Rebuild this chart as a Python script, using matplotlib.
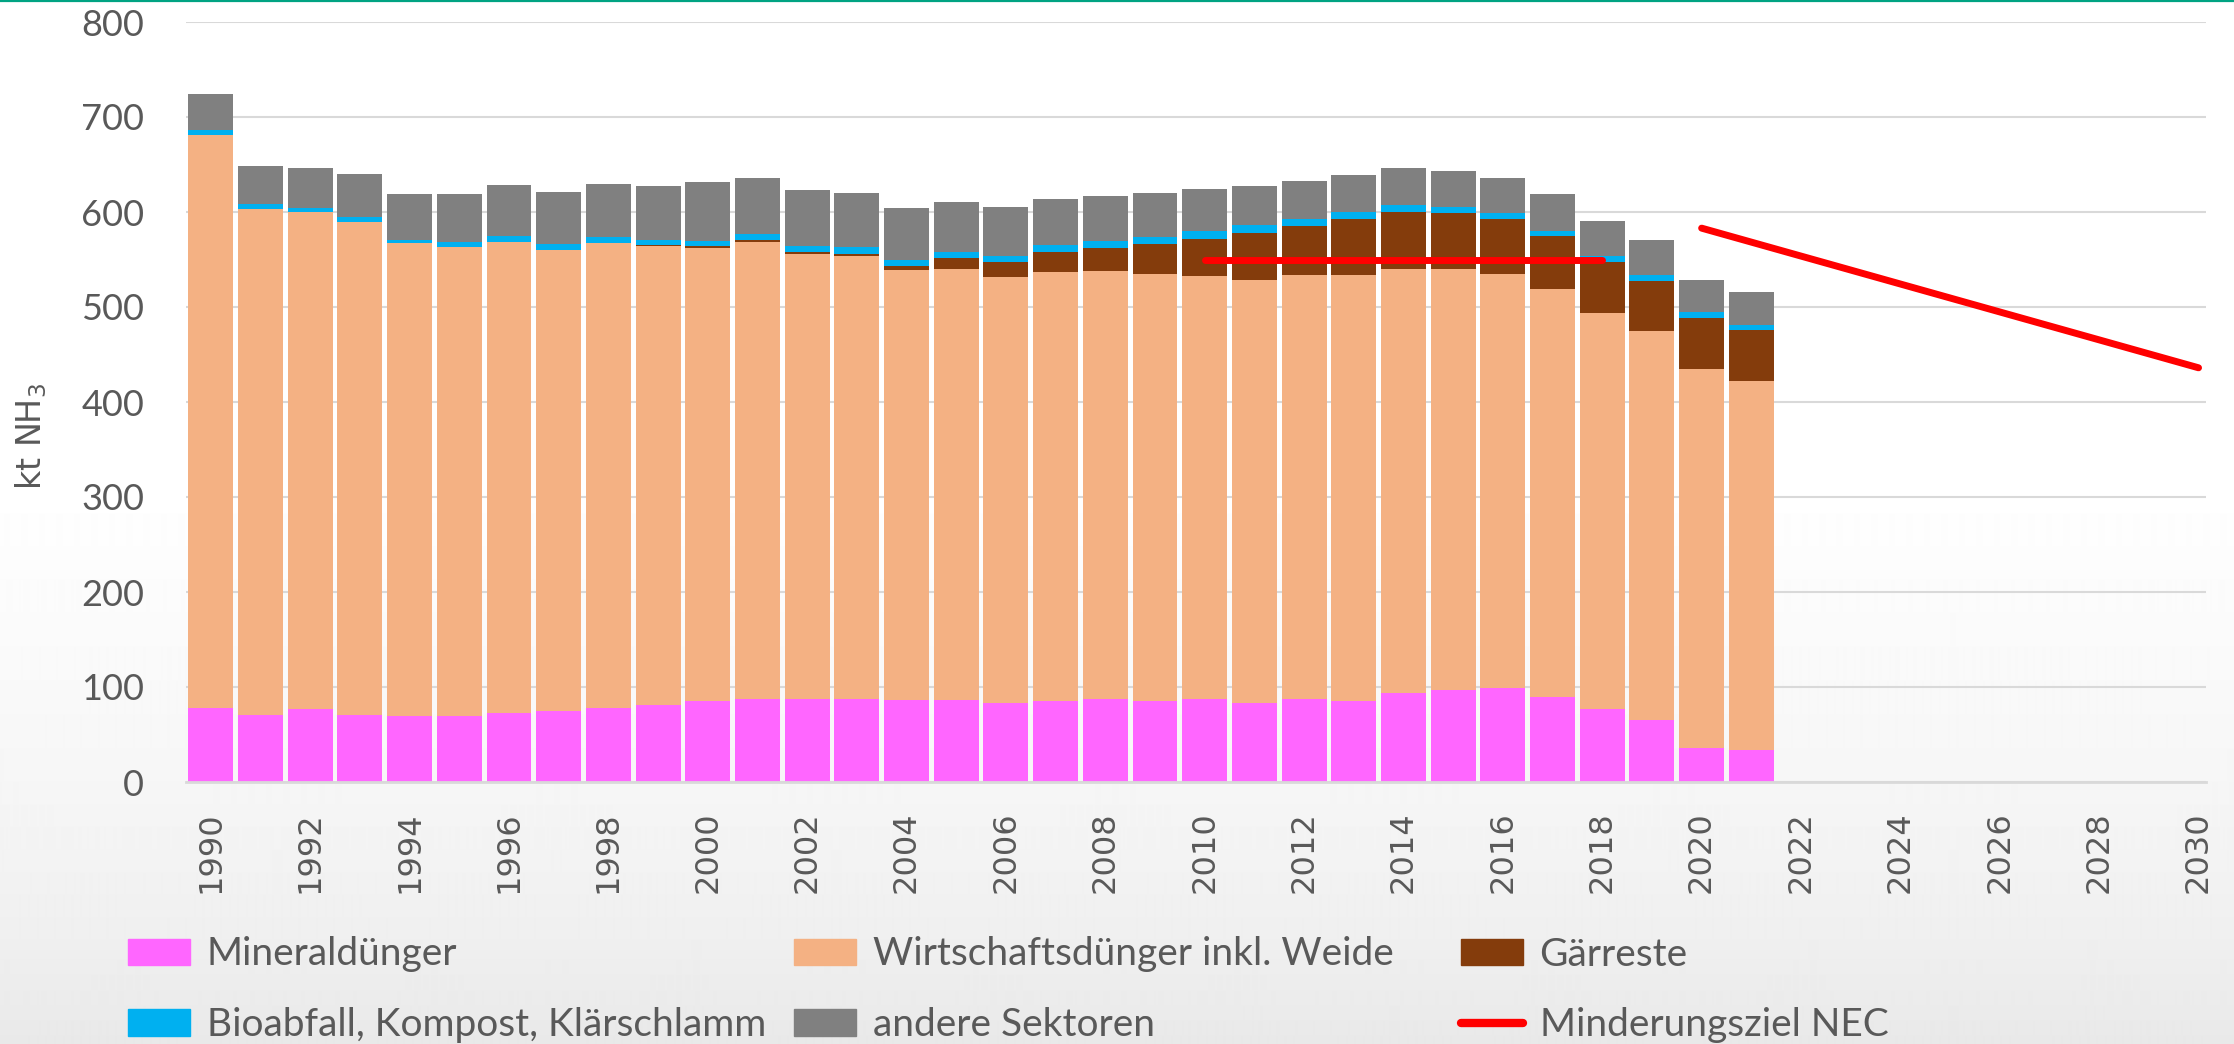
import numpy as np
import matplotlib.pyplot as plt
from matplotlib.patches import Patch
from matplotlib.lines import Line2D

# categories (x axis runs to 2030, data up to 2021)
years = list(range(1990, 2031))
data_years = list(range(1990, 2022))

# kt NH3
mineral = [78, 71, 76.5, 71, 69, 69, 73, 74.5, 78, 81.5,
           85, 87, 87, 87, 86, 86, 83.5, 85.5, 87.5, 85.5,
           87.5, 83.5, 87.5, 85.5, 93.5, 97, 99, 89, 76.5, 65.5,
           36, 34]
wirtschaft = [603.5, 532.5, 523.5, 519, 498, 494, 495, 485.5, 489.5, 482.5,
              477.5, 481.5, 468.5, 466.5, 452.5, 454.5, 448.5, 451.5, 450, 449,
              445, 445, 446, 448, 447, 442.5, 435.5, 429.5, 417.5, 409.5,
              399, 388.5]
gaerreste = [0, 0, 0, 0, 0, 0, 0, 0, 0, 1,
             1.5, 2, 2.5, 2.5, 4.5, 11.5, 15.5, 21, 25, 32,
             39.5, 49.5, 51.5, 59, 59.5, 59.5, 58, 56, 53.5, 52,
             53.5, 53.5]
bioabfall = [4.5, 4.5, 4, 4.5, 4, 5, 6.5, 6, 6, 6,
             6, 6, 6.5, 7, 6, 6, 6.5, 7, 6.5, 7,
             7.5, 8, 8, 7, 7.5, 6.5, 6.5, 6, 6.5, 6.5,
             6, 5.5]
andere = [38, 40, 42, 45.5, 48, 51, 54, 55, 55.5, 56.5,
          62, 59.5, 59, 57.5, 55, 53, 51.5, 49, 47.5, 47,
          44.5, 41, 39.5, 39, 38.5, 37.5, 37, 38, 36.5, 36.5,
          34, 34.5]

nec_a_years = [2010, 2018]
nec_a_values = [550, 550]
nec_b_years = [2020, 2030]
nec_b_values = [583, 436]

series = [
    ('Mineraldünger', mineral, '#FF66FF'),
    ('Wirtschaftsdünger inkl. Weide', wirtschaft, '#F4B183'),
    ('Gärreste', gaerreste, '#843C0C'),
    ('Bioabfall, Kompost, Klärschlamm', bioabfall, '#00B0F0'),
    ('andere Sektoren', andere, '#808080'),
]

W, H = 2234, 1044
fig = plt.figure(figsize=(W / 100, H / 100), dpi=100)
fig.patch.set_facecolor('white')

# soft vertical background gradient + green line on top
bg = fig.add_axes([0, 0, 1, 1], zorder=-10)
bg.axis('off')
rows = np.arange(H)
shade = np.interp(rows, [0, 480, 650, 781, 954, 1044], [1.0, 1.0, 0.98, 0.965, 0.935, 0.912])
bg.imshow(np.repeat(shade[:, None], 4, axis=1), cmap='gray', vmin=0, vmax=1,
          aspect='auto', extent=[0, 1, 0, 1], interpolation='bilinear')
bg.axhline(0.999, color='#00A382', lw=1.6)
bg.set_xlim(0, 1)
bg.set_ylim(0, 1)

ax = fig.add_axes([186 / W, (H - 782) / H, 2020 / W, 760 / H])
ax.set_facecolor('none')

pos = {y: i for i, y in enumerate(years)}
x = np.array([pos[y] for y in data_years])
bottom = np.zeros(len(data_years))
for label, vals, color in series:
    vals = np.array(vals, dtype=float)
    ax.bar(x, vals, bottom=bottom, width=0.905, color=color, linewidth=0, zorder=2)
    bottom += vals

ax.plot([pos[y] for y in nec_a_years], nec_a_values, color='#FF0000', lw=5,
        solid_capstyle='round', zorder=3)
ax.plot([pos[y] for y in nec_b_years], nec_b_values, color='#FF0000', lw=5,
        solid_capstyle='round', zorder=3)

ax.set_xlim(-0.5, 40.15)
ax.set_ylim(0, 800)
ax.set_yticks(range(0, 801, 100))
ax.set_xticks([pos[y] for y in years if y % 2 == 0])
ax.set_xticklabels([str(y) for y in years if y % 2 == 0], rotation=90,
                   fontsize=23, color='#595959', family='DejaVu Sans')
for t in ax.get_yticklabels():
    t.set_fontsize(26)
    t.set_color('#595959')
    t.set_family('Lato')
ax.tick_params(axis='x', length=0, pad=21)
ax.tick_params(axis='y', length=0, pad=30)
ax.grid(axis='y', color='#D9D9D9', lw=1.5)
ax.set_axisbelow(True)
for s in ['top', 'right', 'left']:
    ax.spines[s].set_visible(False)
ax.spines['bottom'].set_color('#D9D9D9')
ax.spines['bottom'].set_linewidth(2)

fig.text(31 / W, 1 - 436 / H, 'kt NH$_3$', rotation=90, ha='center', va='center',
         fontsize=24, color='#595959', family='DejaVu Sans')

# legend, placed entry by entry like the Excel layout
handles = [Patch(color=c, label=l) for l, _, c in series]
handles.append(Line2D([], [], color='#FF0000', lw=6, solid_capstyle='round',
                      label='Minderungsziel NEC'))
col_x = [128, 794, 1461]
row_y = [954.5, 1025]
for k, h in enumerate(handles):
    r, c = divmod(k, 3)
    leg = fig.legend(handles=[h], loc='center left',
                     bbox_to_anchor=(col_x[c] / W, 1 - row_y[r] / H),
                     frameon=False, borderpad=0, borderaxespad=0,
                     handlelength=1.6, handleheight=0.67, handletextpad=0.42,
                     prop={'family': 'Lato', 'size': 28})
    for t in leg.get_texts():
        t.set_color('#595959')

fig.savefig('out.png', dpi=100)
